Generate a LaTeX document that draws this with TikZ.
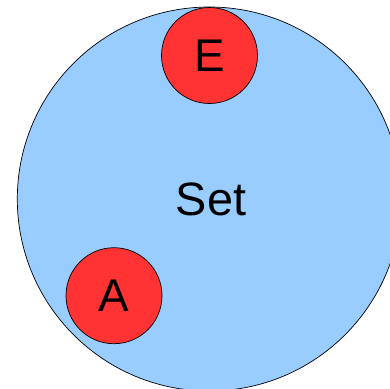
\documentclass[tikz,border=0pt]{standalone}
\usepackage{fontspec}
\setmainfont{Liberation Sans}
\definecolor{setblue}{HTML}{99CCFF}
\definecolor{elemred}{HTML}{FF3333}
\begin{document}
\begin{tikzpicture}[x=1bp,y=-1bp,
  setdisc/.style={circle,draw=black,line width=0.7bp,fill=setblue,inner sep=0pt,minimum size=384bp},
  element/.style={circle,draw=black,line width=0.7bp,fill=elemred,inner sep=0pt,minimum size=96bp,
    font=\fontsize{46}{46}\selectfont},
  caption/.style={inner sep=0pt,font=\fontsize{47}{47}\selectfont}]
  \useasboundingbox (0,0) rectangle (390,389);
  \clip (0,0) rectangle (390,389);
  % the set and its name
  \node[setdisc] (set) at (209.3,199) {};
  \node[caption] (setname) at (211,199.5) {Set};
  % two elements inside the set
  \node[element] (e) at (209.5,55.5) {E};
  \node[element] (a) at (114,295.7) {A};
\end{tikzpicture}
\end{document}
